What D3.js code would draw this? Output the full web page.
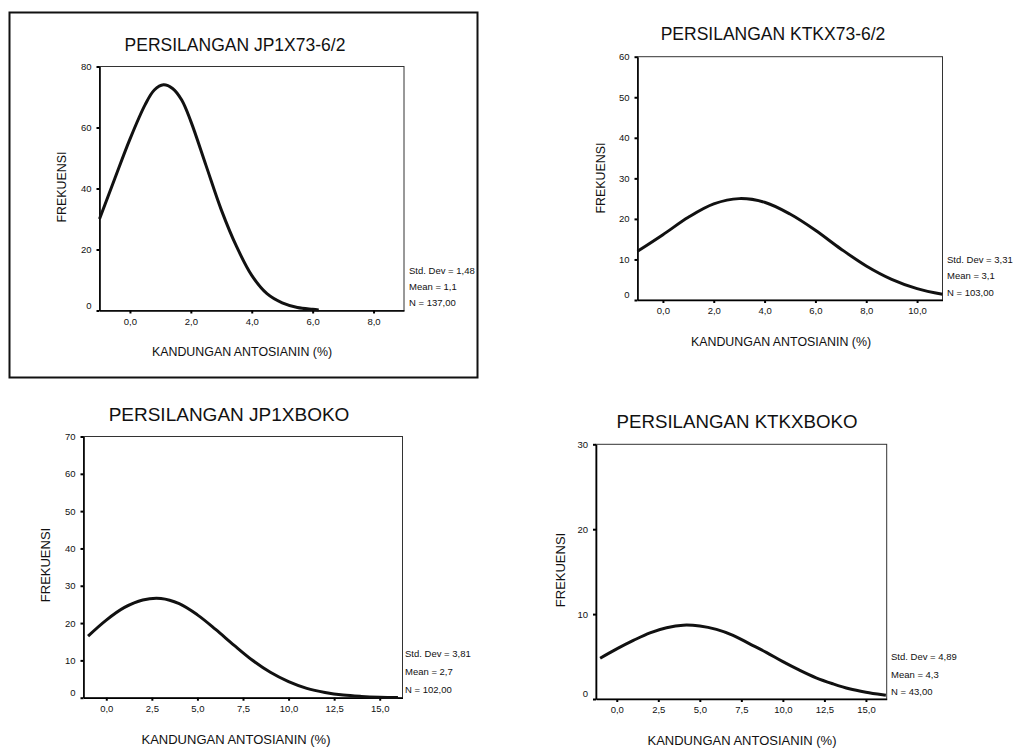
<!DOCTYPE html>
<html>
<head>
<meta charset="utf-8">
<script src="https://cdn.jsdelivr.net/npm/d3@7"></script>
<style>
  body { margin: 0; background: #fff; }
  text { font-family: Arial, "Liberation Sans", sans-serif; fill: #111; }
</style>
</head>
<body>
<div id="my_dataviz"></div>
<script>
// ---- data ----
var titles = ["PERSILANGAN JP1X73-6/2", "PERSILANGAN KTKX73-6/2", "PERSILANGAN JP1XBOKO", "PERSILANGAN KTKXBOKO"];
var stats = [
  ["Std. Dev = 1,48", "Mean = 1,1", "N = 137,00"],
  ["Std. Dev = 3,31", "Mean = 3,1", "N = 103,00"],
  ["Std. Dev = 3,81", "Mean = 2,7", "N = 102,00"],
  ["Std. Dev = 4,89", "Mean = 4,3", "N = 43,00"]
];
var xLabel = "KANDUNGAN ANTOSIANIN (%)";
var yLabel = "FREKUENSI";

var xDomains = [[-1, 9], [-1, 11], [-1.25, 16.25], [-1.25, 16.25]];
var yDomains = [[0, 80], [0, 60], [0, 70], [0, 30]];
var xTicks = [[0, 2, 4, 6, 8], [0, 2, 4, 6, 8, 10], [0, 2.5, 5, 7.5, 10, 12.5, 15], [0, 2.5, 5, 7.5, 10, 12.5, 15]];
var yTicks = [[0, 20, 40, 60, 80], [0, 10, 20, 30, 40, 50, 60], [0, 10, 20, 30, 40, 50, 60, 70], [0, 10, 20, 30]];

// normal curves, sampled by eye
var curveX1 = [-1, -0.5, 0, 0.5, 0.8, 1.1, 1.4, 1.7, 2, 2.5, 3, 3.5, 4, 4.5, 5, 5.5, 6, 6.2];
var curveY1 = [30, 43.2, 56.2, 67.5, 72.3, 74, 72.8, 69, 62, 47.5, 33, 21, 11.5, 5.5, 2.5, 1, 0.4, 0.2];
var curveX2 = [-1, 0, 1, 2, 3, 4, 5, 6, 7, 8, 9, 10, 11];
var curveY2 = [12, 16.1, 20.4, 23.7, 25, 24.1, 21.2, 17.2, 12.6, 8.4, 5.1, 2.8, 1.4];
var curveX3 = [-1, 0, 1, 2, 3, 4, 5, 6, 7, 8, 9, 10, 11, 12, 13, 14, 15, 16];
var curveY3 = [16.5, 20.8, 24.2, 26.2, 26.6, 25.2, 22.2, 18.3, 14.1, 10.1, 6.8, 4.3, 2.5, 1.4, 0.7, 0.35, 0.15, 0.05];
var curveX4 = [-1, 0, 1, 2, 3, 4, 5, 6, 7, 8, 9, 10, 11, 12, 13, 14, 15, 16, 16.2];
var curveY4 = [4.8, 5.9, 6.9, 7.8, 8.4, 8.7, 8.6, 8.2, 7.5, 6.5, 5.5, 4.4, 3.4, 2.5, 1.8, 1.2, 0.8, 0.5, 0.45];

var curvesX = [curveX1, curveX2, curveX3, curveX4];
var curvesY = [curveY1, curveY2, curveY3, curveY4];

// ---- layout of the four panels (pixels) ----
var layout = [
  {x0: 99.5, x1: 404, y0: 66.5, y1: 310.5, title: [235, 50.5], tfs: 17.5, ylab: [62, 187], xlab: [242, 356], lfs: 12.4, stats: [409, 273.5, 16]},
  {x0: 637.5, x1: 942.5, y0: 56.7, y1: 300, title: [773, 40], tfs: 17.5, ylab: [601, 178], xlab: [781, 346], lfs: 12.4, stats: [947, 262.6, 16.7]},
  {x0: 83.5, x1: 402.5, y0: 436.5, y1: 697.7, title: [229, 420.5], tfs: 19, ylab: [45, 565], xlab: [236, 744], lfs: 13, stats: [405, 656.6, 18]},
  {x0: 596, x1: 886.7, y0: 444.3, y1: 699, title: [737, 428], tfs: 18.7, ylab: [560, 570], xlab: [742, 744.5], lfs: 13, stats: [891, 660, 17.5]}
];

var locale = d3.formatLocale({decimal: ",", thousands: ".", grouping: [3], currency: ["", ""]});
var fmt = locale.format(".1f");

var svg = d3.select("#my_dataviz")
  .append("svg")
    .attr("width", 1016)
    .attr("height", 749);

// box round the first panel
svg.append("rect")
  .attr("x", 9.5)
  .attr("y", 12.5)
  .attr("width", 468)
  .attr("height", 365)
  .attr("fill", "none")
  .attr("stroke", "#111")
  .attr("stroke-width", 2);

layout.forEach(function(L, i) {
  var g = svg.append("g");

  var x = d3.scaleLinear().domain(xDomains[i]).range([L.x0, L.x1]);
  var y = d3.scaleLinear().domain(yDomains[i]).range([L.y1, L.y0]);

  // frame (thin top / right)
  g.append("rect")
    .attr("x", L.x0).attr("y", L.y0)
    .attr("width", L.x1 - L.x0).attr("height", L.y1 - L.y0)
    .attr("fill", "none")
    .attr("stroke", "#333")
    .attr("stroke-width", 1);

  // y axis
  var ya = g.append("g")
    .attr("transform", "translate(" + L.x0 + ",0)")
    .call(d3.axisLeft(y).tickValues(yTicks[i]).tickSize(3).tickSizeOuter(0).tickPadding(5).tickFormat(d3.format("d")));
  ya.select(".domain").attr("stroke", "#000").attr("stroke-width", 1.6);
  ya.selectAll(".tick line").attr("stroke", "#000").attr("stroke-width", 2);
  ya.selectAll(".tick text")
    .style("font-size", "9.5px")
    .attr("fill", "#222")
    .attr("dy", function(d) { return d === 0 ? "-0.25em" : "0.32em"; });

  // x axis
  var xa = g.append("g")
    .attr("transform", "translate(0," + L.y1 + ")")
    .call(d3.axisBottom(x).tickValues(xTicks[i]).tickSize(3).tickSizeOuter(0).tickPadding(4.4).tickFormat(fmt));
  xa.select(".domain").attr("stroke", "#000").attr("stroke-width", 1.6);
  xa.selectAll(".tick line").attr("stroke", "#000").attr("stroke-width", 2);
  xa.selectAll(".tick text").style("font-size", "9.5px").attr("fill", "#222");

  // curve
  var pts = curvesX[i].map(function(v, k) { return {x: v, y: curvesY[i][k]}; });
  var line = d3.line()
    .x(function(d) { return x(d.x); })
    .y(function(d) { return y(d.y); })
    .curve(d3.curveCatmullRom.alpha(0.5));
  g.append("path")
    .datum(pts)
    .attr("d", line)
    .attr("fill", "none")
    .attr("stroke", "#111")
    .attr("stroke-width", 3)
    .attr("stroke-linejoin", "round");

  // title
  g.append("text")
    .attr("x", L.title[0]).attr("y", L.title[1])
    .attr("text-anchor", "middle")
    .style("font-size", L.tfs + "px")
    .text(titles[i]);

  // axis labels
  g.append("text")
    .attr("transform", "translate(" + L.ylab[0] + "," + L.ylab[1] + ") rotate(-90)")
    .attr("text-anchor", "middle")
    .attr("dy", "0.36em")
    .style("font-size", L.lfs + "px")
    .text(yLabel);
  g.append("text")
    .attr("x", L.xlab[0]).attr("y", L.xlab[1])
    .attr("text-anchor", "middle")
    .style("font-size", L.lfs + "px")
    .text(xLabel);

  // stats block
  g.selectAll("statText")
    .data(stats[i])
    .enter()
    .append("text")
      .attr("x", L.stats[0])
      .attr("y", function(d, k) { return L.stats[1] + k * L.stats[2]; })
      .style("font-size", "9.5px")
      .text(function(d) { return d; });
});
</script>
</body>
</html>
